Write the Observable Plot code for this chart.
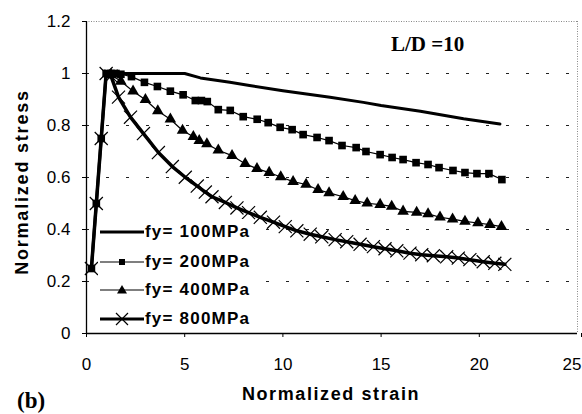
<!DOCTYPE html>
<html><head><meta charset="utf-8">
<script src="https://cdn.jsdelivr.net/npm/d3@7"></script>
<script src="https://cdn.jsdelivr.net/npm/@observablehq/plot@0.6"></script>
<style>
body{margin:0;background:#fff;}
#wrap{position:relative;width:582px;height:414px;font-family:"Liberation Sans",Arial,sans-serif;}
.ov{position:absolute;white-space:nowrap;color:#000;}
</style></head>
<body><div id="wrap"></div>
<script>
// shared elastic branch
const riseX = [0.25, 0.5, 0.75, 1.0];
const riseY = [0.25, 0.5, 0.75, 1.0];

// fy = 100 MPa (solid line)
const fy100X = [1.0, 2.0, 3.0, 4.0, 5.0, 5.8, 7.3, 8.3, 10.0, 12.4, 14.1, 15.0, 17.0, 19.2, 21.05];
const fy100Y = [1.0, 1.0, 1.0, 1.0, 1.0, 0.983, 0.966, 0.954, 0.934, 0.909, 0.889, 0.877, 0.855, 0.826, 0.806];

// fy = 200 MPa (squares)
const fy200X = [1.0, 1.25, 1.5, 1.75, 2.29, 2.95, 3.61, 4.27, 4.92, 5.54, 5.85, 6.15, 6.71, 7.32, 7.98, 8.69, 9.25, 9.86, 10.47, 11.03, 11.74, 12.35, 13.01, 13.73, 14.23, 14.95, 15.56, 16.12, 16.78, 17.39, 17.95, 18.66, 19.27, 19.88, 20.49, 21.15];
const fy200Y = [1.0, 1.0, 1.0, 0.997, 0.988, 0.966, 0.950, 0.932, 0.918, 0.896, 0.896, 0.892, 0.861, 0.858, 0.834, 0.824, 0.811, 0.793, 0.784, 0.765, 0.754, 0.742, 0.723, 0.715, 0.700, 0.688, 0.677, 0.669, 0.657, 0.650, 0.638, 0.627, 0.619, 0.615, 0.615, 0.592];

// fy = 400 MPa (triangles)
const fy400X = [1.0, 1.25, 1.75, 2.37, 3.00, 3.63, 4.27, 4.89, 5.44, 5.74, 6.13, 6.71, 7.41, 8.08, 8.68, 9.30, 9.89, 10.52, 11.18, 11.79, 12.35, 13.07, 13.68, 14.29, 14.95, 15.54, 16.12, 16.81, 17.39, 18.00, 18.64, 19.27, 19.93, 20.54, 21.13];
const fy400Y = [1.0, 0.995, 0.97, 0.932, 0.899, 0.856, 0.824, 0.781, 0.757, 0.742, 0.729, 0.705, 0.684, 0.653, 0.634, 0.619, 0.602, 0.584, 0.573, 0.553, 0.541, 0.526, 0.511, 0.501, 0.496, 0.489, 0.470, 0.466, 0.460, 0.447, 0.440, 0.431, 0.425, 0.419, 0.411];

// fy = 800 MPa (crosses)
const fy800X = [1.0, 1.25, 1.63, 2.24, 2.90, 3.66, 4.37, 5.03, 5.64, 6.05, 6.39, 7.07, 7.66, 8.25, 8.85, 9.52, 10.12, 10.71, 11.39, 11.98, 12.66, 13.25, 13.93, 14.61, 15.20, 15.80, 16.47, 17.07, 17.66, 18.34, 18.93, 19.52, 20.20, 20.79, 21.30];
const fy800Y = [1.0, 0.99, 0.909, 0.832, 0.769, 0.696, 0.642, 0.601, 0.567, 0.544, 0.526, 0.504, 0.483, 0.465, 0.447, 0.428, 0.411, 0.395, 0.382, 0.372, 0.361, 0.353, 0.343, 0.334, 0.326, 0.318, 0.309, 0.303, 0.299, 0.295, 0.290, 0.284, 0.276, 0.270, 0.266];

const seriesNames = ["fy= 100MPa", "fy= 200MPa", "fy= 400MPa", "fy= 800MPa"];
const xTicks = [0, 5, 10, 15, 20];
const xTickLast = [25];
const yTicks = [0, 0.2, 0.4, 0.6, 0.8, 1.0, 1.2];
const gridY = [0.2, 0.4, 0.6, 0.8, 1.0];

const pts = (xs, ys) => xs.map((x, i) => ({x, y: ys[i]}));
const rise = pts(riseX, riseY);
const s100 = rise.concat(pts(fy100X, fy100Y).slice(1));
const s200 = rise.concat(pts(fy200X, fy200Y).slice(1));
const s400 = rise.concat(pts(fy400X, fy400Y).slice(1));
const s800 = rise.concat(pts(fy800X, fy800Y).slice(1));
const m200 = rise.concat(pts(fy200X, fy200Y).slice(1));
const m400 = pts(fy400X, fy400Y).slice(1);
const m800 = rise.concat(pts(fy800X, fy800Y).slice(1));

const fmt = d => String(+d.toFixed(1));

const chart = Plot.plot({
  width: 582, height: 414,
  marginLeft: 86, marginRight: 5, marginTop: 21, marginBottom: 81,
  style: {fontFamily: '"Liberation Sans",Arial,sans-serif', fontSize: "17px", color: "#000", background: "#fff", overflow: "visible"},
  x: {domain: [0, 25], label: null},
  y: {domain: [0, 1.2], label: null},
  marks: [
    Plot.ruleY(gridY, {stroke: "#222", strokeWidth: 1, strokeDasharray: "3,17"}),
    Plot.ruleY([1.2], {stroke: "#888", strokeWidth: 1, strokeDasharray: "1,1.5"}),
    Plot.ruleX([25], {stroke: "#888", strokeWidth: 1, strokeDasharray: "1,1.5"}),
    Plot.ruleY([0], {stroke: "#000", strokeWidth: 1.3}),
    Plot.ruleX([0], {stroke: "#000", strokeWidth: 1.3}),
    Plot.axisX({ticks: xTicks, tickSize: 4, tickPadding: 20, stroke: "#000", tickFormat: fmt}),
    Plot.axisX({ticks: xTickLast, tickSize: 4, tickPadding: 20, stroke: "#000", tickFormat: fmt, textAnchor: "end", dx: 4}),
    Plot.axisY({ticks: yTicks, tickSize: 4, tickPadding: 12, stroke: "#000", tickFormat: fmt}),
    Plot.line(s200, {x: "x", y: "y", stroke: "#000", strokeWidth: 1.2}),
    Plot.line(s400, {x: "x", y: "y", stroke: "#000", strokeWidth: 1.2}),
    Plot.line(s100, {x: "x", y: "y", stroke: "#000", strokeWidth: 3}),
    Plot.line(s800, {x: "x", y: "y", stroke: "#000", strokeWidth: 3.5}),
    Plot.dot(m200, {x: "x", y: "y", symbol: "square", r: 4.3, fill: "#000", stroke: "none"}),
    Plot.dot(m400, {x: "x", y: "y", symbol: "triangle", r: 4.3, fill: "#000", stroke: "none"}),
    Plot.dot(m800, {x: "x", y: "y", symbol: "times", r: 6, stroke: "#000", strokeWidth: 1.2, fill: "none"})
  ]
});
const wrap = document.getElementById("wrap");
wrap.appendChild(chart);

function ov(html, css) {
  const d = document.createElement("div");
  d.className = "ov";
  d.innerHTML = html;
  Object.assign(d.style, css);
  wrap.appendChild(d);
  return d;
}
// axis titles and annotations
ov("Normalized strain", {left: "331px", top: "384px", transform: "translateX(-50%)", fontWeight: "bold", fontSize: "18px", letterSpacing: "1.6px"});
ov("Normalized stress", {left: "22px", top: "182px", transform: "translate(-50%,-50%) rotate(-90deg)", fontWeight: "bold", fontSize: "18px", letterSpacing: "1.8px"});
ov("(b)", {left: "17px", top: "388px", fontFamily: '"Liberation Serif","DejaVu Serif",serif', fontWeight: "bold", fontSize: "23px"});
ov("L/D =10", {left: "391px", top: "32px", fontFamily: '"Liberation Serif","DejaVu Serif",serif', fontWeight: "bold", fontSize: "21px"});

// legend (white box over the gridlines)
ov("", {left: "98px", top: "219px", width: "152px", height: "110px", background: "#fff"});
const legY = [232, 261.5, 290, 318.5];
const legSym = ["none", "square", "triangle", "times"];
const legW = [3, 1.2, 1.2, 3];
seriesNames.forEach((name, i) => {
  const y = legY[i];
  let sym = "";
  if (legSym[i] === "square") sym = '<rect x="19" y="8" width="6" height="6" fill="#000"/>';
  if (legSym[i] === "triangle") sym = '<path d="M22,6 L27,14.5 L17,14.5 Z" fill="#000"/>';
  if (legSym[i] === "times") sym = '<path d="M16,5 L28,17 M16,17 L28,5" stroke="#000" stroke-width="1.2"/>';
  ov('<svg width="44" height="22" style="vertical-align:middle"><line x1="0" x2="44" y1="11" y2="11" stroke="#000" stroke-width="' + legW[i] + '"/>' + sym + '</svg>', {left: "100px", top: (y - 11) + "px"});
  ov(name, {left: "145px", top: (y - 11) + "px", fontWeight: "bold", fontSize: "17px", letterSpacing: "1.2px", lineHeight: "22px"});
});
</script>
</body></html>
